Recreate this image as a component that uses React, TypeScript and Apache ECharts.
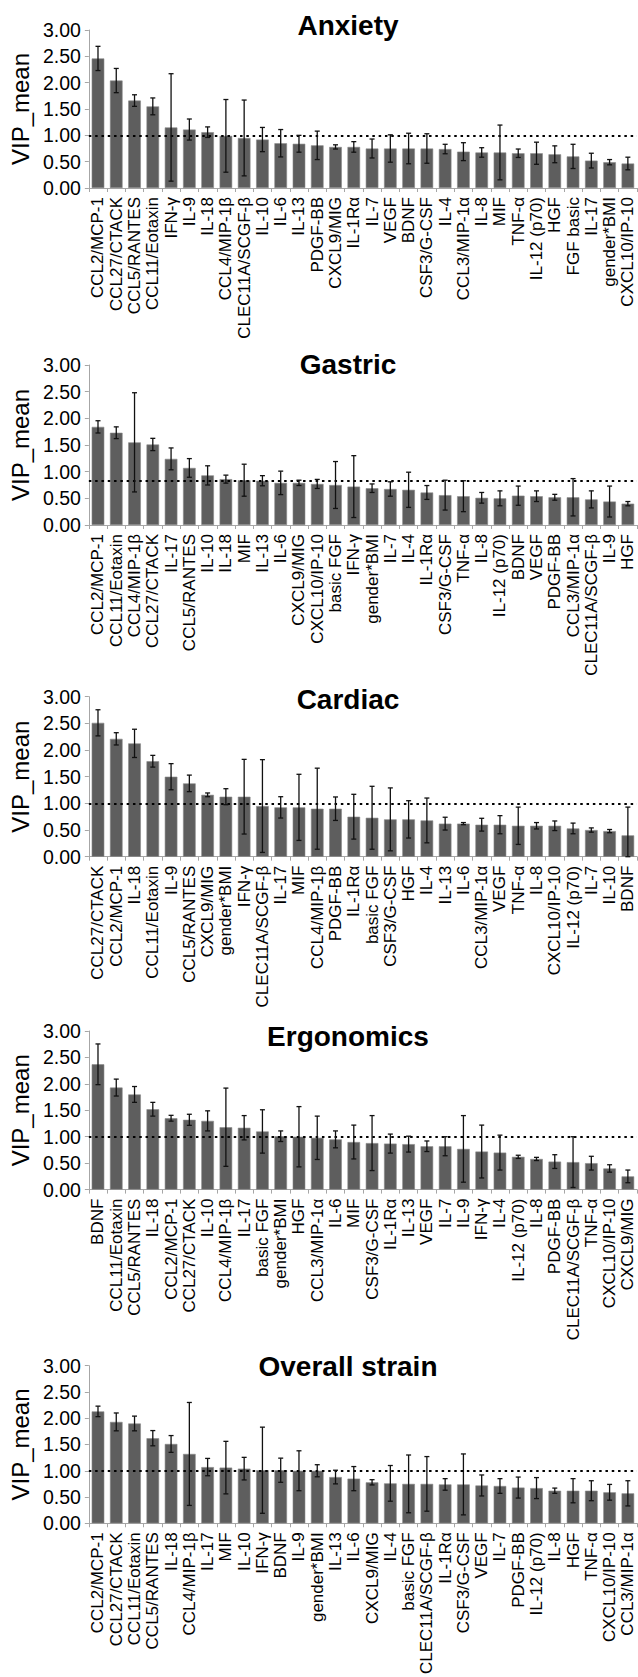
import React, { useEffect, useRef } from "react";
import * as echarts from "echarts";

const panelTitles = ["Anxiety", "Gastric", "Cardiac", "Ergonomics", "Overall strain"];

const anxietyCats = ["CCL2/MCP-1","CCL27/CTACK","CCL5/RANTES","CCL11/Eotaxin","IFN-γ","IL-9","IL-18","CCL4/MIP-1β","CLEC11A/SCGF-β","IL-10","IL-6","IL-13","PDGF-BB","CXCL9/MIG","IL-1Rα","IL-7","VEGF","BDNF","CSF3/G-CSF","IL-4","CCL3/MIP-1α","IL-8","MIF","TNF-α","IL-12 (p70)","HGF","FGF basic","IL-17","gender*BMI","CXCL10/IP-10"];
const anxietyMeans = [2.46,2.04,1.66,1.55,1.15,1.11,1.06,0.99,0.95,0.92,0.85,0.84,0.81,0.78,0.78,0.75,0.75,0.75,0.75,0.74,0.69,0.675,0.675,0.66,0.66,0.64,0.6,0.52,0.49,0.465];
const anxietyErrs = [0.23,0.23,0.11,0.16,1.02,0.2,0.1,0.69,0.72,0.23,0.26,0.16,0.27,0.04,0.1,0.18,0.26,0.29,0.28,0.09,0.17,0.09,0.52,0.08,0.21,0.16,0.23,0.14,0.05,0.12];

const gastricCats = ["CCL2/MCP-1","CCL11/Eotaxin","CCL4/MIP-1β","CCL27/CTACK","IL-17","CCL5/RANTES","IL-10","IL-18","MIF","IL-13","IL-6","CXCL9/MIG","CXCL10/IP-10","basic FGF","IFN-γ","gender*BMI","IL-7","IL-4","IL-1Rα","CSF3/G-CSF","TNF-α","IL-8","IL-12 (p70)","BDNF","VEGF","PDGF-BB","CCL3/MIP-1α","CLEC11A/SCGF-β","IL-9","HGF"];
const gastricMeans = [1.84,1.73,1.55,1.51,1.24,1.07,0.93,0.86,0.84,0.83,0.79,0.79,0.77,0.75,0.72,0.69,0.675,0.66,0.61,0.56,0.54,0.51,0.5,0.55,0.54,0.52,0.52,0.48,0.44,0.4];
const gastricErrs = [0.115,0.11,0.93,0.115,0.205,0.175,0.18,0.075,0.3,0.095,0.22,0.05,0.085,0.44,0.58,0.08,0.135,0.33,0.13,0.28,0.29,0.1,0.14,0.18,0.1,0.055,0.35,0.16,0.29,0.04];

const cardiacCats = ["CCL27/CTACK","CCL2/MCP-1","IL-18","CCL11/Eotaxin","IL-9","CCL5/RANTES","CXCL9/MIG","gender*BMI","IFN-γ","CLEC11A/SCGF-β","IL-17","MIF","CCL4/MIP-1β","PDGF-BB","IL-1Rα","basic FGF","CSF3/G-CSF","HGF","IL-4","IL-13","IL-6","CCL3/MIP-1α","VEGF","TNF-α","IL-8","CXCL10/IP-10","IL-12 (p70)","IL-7","IL-10","BDNF"];
const cardiacMeans = [2.51,2.21,2.125,1.79,1.5,1.375,1.16,1.125,1.125,0.95,0.925,0.925,0.9,0.9,0.75,0.73,0.7,0.7,0.68,0.62,0.62,0.6,0.6,0.58,0.58,0.58,0.53,0.5,0.48,0.4];
const cardiacErrs = [0.245,0.115,0.265,0.11,0.245,0.155,0.035,0.15,0.7,0.87,0.2,0.62,0.76,0.22,0.42,0.59,0.59,0.35,0.42,0.12,0.02,0.12,0.17,0.35,0.06,0.09,0.1,0.04,0.03,0.53];

const ergonomicsCats = ["BDNF","CCL11/Eotaxin","CCL5/RANTES","IL-18","CCL2/MCP-1","CCL27/CTACK","IL-10","CCL4/MIP-1β","IL-17","basic FGF","gender*BMI","HGF","CCL3/MIP-1α","IL-6","MIF","CSF3/G-CSF","IL-1Rα","IL-13","VEGF","IL-7","IL-9","IFN-γ","IL-4","IL-12 (p70)","IL-8","PDGF-BB","CLEC11A/SCGF-β","TNF-α","CXCL10/IP-10","CXCL9/MIG"];
const ergonomicsMeans = [2.37,1.93,1.8,1.52,1.35,1.32,1.3,1.18,1.17,1.1,1.01,1.0,0.98,0.95,0.9,0.88,0.87,0.86,0.82,0.82,0.77,0.72,0.7,0.62,0.58,0.53,0.52,0.5,0.4,0.25];
const ergonomicsErrs = [0.385,0.16,0.15,0.13,0.055,0.105,0.19,0.74,0.23,0.41,0.1,0.57,0.41,0.16,0.32,0.52,0.18,0.15,0.1,0.18,0.63,0.5,0.33,0.03,0.03,0.13,0.48,0.13,0.07,0.12];

const overallCats = ["CCL2/MCP-1","CCL27/CTACK","CCL11/Eotaxin","CCL5/RANTES","IL-18","CCL4/MIP-1β","IL-17","MIF","IL-10","IFN-γ","BDNF","IL-9","gender*BMI","IL-13","IL-6","CXCL9/MIG","IL-4","basic FGF","CLEC11A/SCGF-β","IL-1Rα","CSF3/G-CSF","VEGF","IL-7","PDGF-BB","IL-12 (p70)","IL-8","HGF","TNF-α","CXCL10/IP-10","CCL3/MIP-1α"];
const overallMeans = [2.13,1.93,1.9,1.62,1.51,1.32,1.07,1.06,1.04,1.01,1.01,1.0,1.0,0.88,0.85,0.78,0.76,0.75,0.75,0.74,0.74,0.72,0.71,0.68,0.67,0.62,0.62,0.62,0.59,0.57];
const overallErrs = [0.1,0.17,0.14,0.145,0.16,0.98,0.165,0.5,0.215,0.82,0.23,0.38,0.115,0.13,0.23,0.05,0.34,0.55,0.52,0.11,0.58,0.2,0.14,0.2,0.2,0.05,0.23,0.19,0.15,0.24];

const thresholds = [1, 0.83, 1, 1, 1];
const yMin = 0;
const yMax = 3;
const yStep = 0.5;

const FONT = "'Liberation Sans', Arial, Helvetica, sans-serif";

// layout (pixels)
const gridTops = [30, 365, 696.7, 1031, 1365.7];
const gridHeights = [158, 160, 160, 158.6, 160.5];
const titleYs = [25.5, 364, 699, 1036, 1366.7];

export default function App() {
  const ref = useRef<HTMLDivElement>(null);

  useEffect(() => {
    const el = ref.current;
    if (!el) return;
    const chart = echarts.init(el, undefined, { renderer: "svg" });

    const panels = [
      { cats: anxietyCats, means: anxietyMeans, errs: anxietyErrs },
      { cats: gastricCats, means: gastricMeans, errs: gastricErrs },
      { cats: cardiacCats, means: cardiacMeans, errs: cardiacErrs },
      { cats: ergonomicsCats, means: ergonomicsMeans, errs: ergonomicsErrs },
      { cats: overallCats, means: overallMeans, errs: overallErrs },
    ];

    const grids: any[] = [];
    const xAxes: any[] = [];
    const yAxes: any[] = [];
    const series: any[] = [];
    const graphics: any[] = [];

    panels.forEach((p, i) => {
      grids.push({ left: 86, right: 1, top: gridTops[i], height: gridHeights[i], containLabel: false });
      xAxes.push({
        type: "category",
        gridIndex: i,
        data: p.cats,
        axisLine: { show: true, lineStyle: { color: "#a6a6a6", width: 1 } },
        axisTick: { show: true, interval: 0, length: 4, lineStyle: { color: "#a6a6a6" } },
        axisLabel: {
          interval: 0,
          rotate: 90,
          margin: 9,
          color: "#000",
          fontSize: 17,
          fontFamily: FONT,
        },
        splitLine: { show: false },
      });
      yAxes.push({
        type: "value",
        gridIndex: i,
        min: yMin,
        max: yMax,
        interval: yStep,
        name: "VIP_mean",
        nameLocation: "middle",
        nameGap: 48,
        nameTextStyle: { fontSize: 24, color: "#000", fontFamily: FONT },
        axisLine: { show: true, lineStyle: { color: "#a6a6a6", width: 1 } },
        axisTick: { show: true, length: 4, lineStyle: { color: "#a6a6a6" } },
        axisLabel: {
          formatter: (v: number) => v.toFixed(2),
          fontSize: 19.5,
          color: "#000",
          margin: 8,
          fontFamily: FONT,
        },
        splitLine: { show: false },
      });
      series.push({
        type: "bar",
        xAxisIndex: i,
        yAxisIndex: i,
        data: p.means,
        barCategoryGap: "31%",
        itemStyle: { color: "#5e5e5e", borderColor: "#8a8a8a", borderWidth: 0.6 },
        silent: true,
        z: 2,
        markLine: {
          silent: true,
          symbol: "none",
          label: { show: false },
          lineStyle: { type: [2.5, 3.8], color: "#000", width: 2 },
          data: [{ yAxis: thresholds[i] }],
          z: 3,
        },
      });
      series.push({
        type: "custom",
        xAxisIndex: i,
        yAxisIndex: i,
        data: p.means.map((m, k) => [k, m, p.errs[k]]),
        encode: { x: 0, y: 1 },
        silent: true,
        z: 5,
        renderItem: (params: any, api: any) => {
          const idx = api.value(0);
          const m = api.value(1);
          const e = api.value(2);
          const hi = api.coord([idx, m + e]);
          const lo = api.coord([idx, Math.max(m - e, 0)]);
          const hw = 2.5;
          const st = { stroke: "#111", lineWidth: 1.3 };
          return {
            type: "group",
            children: [
              { type: "line", shape: { x1: hi[0], y1: hi[1], x2: lo[0], y2: lo[1] }, style: st },
              { type: "line", shape: { x1: hi[0] - hw, y1: hi[1], x2: hi[0] + hw, y2: hi[1] }, style: st },
              { type: "line", shape: { x1: lo[0] - hw, y1: lo[1], x2: lo[0] + hw, y2: lo[1] }, style: st },
            ],
          };
        },
      });
      graphics.push({
        type: "text",
        x: 348,
        y: titleYs[i],
        style: {
          text: panelTitles[i],
          fontSize: 28,
          fontWeight: "bold",
          fontFamily: FONT,
          fill: "#000",
          textAlign: "center",
          textVerticalAlign: "middle",
        },
      });
    });

    chart.setOption({
      animation: false,
      backgroundColor: "#fff",
      grid: grids,
      xAxis: xAxes,
      yAxis: yAxes,
      series,
      graphic: graphics,
    });

    return () => chart.dispose();
  }, []);

  return (
    <div
      ref={ref}
      style={{ position: "absolute", left: 0, top: 0, width: 638, height: 1677, background: "#fff" }}
    />
  );
}
